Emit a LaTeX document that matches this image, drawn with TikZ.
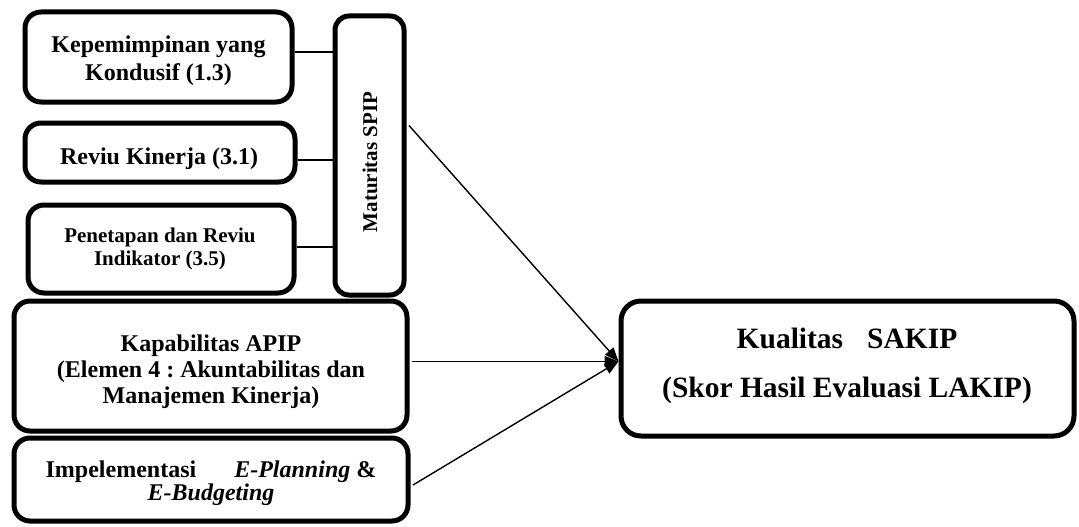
\documentclass[tikz,border=0pt]{standalone}
\usepackage{fontspec}
\setmainfont{Liberation Serif}
\usetikzlibrary{arrows.meta}
\frenchspacing
\begin{document}
\begin{tikzpicture}[x=1pt,y=-1pt,
  box/.style={draw, line width=5pt, rounded corners=16pt, inner sep=0pt},
  txt/.style={inner sep=0pt, align=center, font=\bfseries\fontsize{24}{28}\selectfont},
  link/.style={line width=1.4pt},
  arr/.style={line width=1.4pt, -{Triangle[length=14pt,width=11pt]}}]
\useasboundingbox (0,0) rectangle (1079,527);

% indicator boxes feeding the SPIP maturity bar
\node[box, minimum width=267pt, minimum height=90pt] (kep) at (158.5,57) {};
\node[txt] (keptxt) at (158.5,61) {Kepemimpinan yang\\Kondusif (1.3)};
\node[box, minimum width=270pt, minimum height=59pt] (rev) at (160,152.5) {};
\node[txt] (revtxt) at (159,159) {Reviu Kinerja (3.1)};
\node[box, minimum width=266pt, minimum height=88pt] (pen) at (161,249) {};
\node[txt, font=\bfseries\fontsize{21}{23}\selectfont] (pentxt) at (160,249)
  {Penetapan dan Reviu\\Indikator (3.5)};

% vertical bar
\node[box, rounded corners=14pt, minimum width=69pt, minimum height=279pt] (mat) at (369.5,155.5) {};
\node[rotate=90, inner sep=0pt, font=\bfseries\fontsize{21}{24}\selectfont] (matlbl) at (370,162) {Maturitas SPIP};

% lower input boxes
\node[box, minimum width=393pt, minimum height=130pt] (kap) at (210.5,366) {};
\node[txt, font=\bfseries\fontsize{24}{26}\selectfont] (kaptxt) at (211,372)
  {Kapabilitas APIP\\(Elemen 4 : Akuntabilitas dan\\Manajemen Kinerja)};
\node[box, minimum width=394pt, minimum height=83pt] (imp) at (211,479.5) {};
\node[txt, font=\bfseries\fontsize{24}{23}\selectfont] (imptxt) at (211,483)
  {Impelementasi\hspace*{38pt}\textit{E-Planning} \&\\\textit{E-Budgeting}};

% outcome box
\node[box, rounded corners=20pt, minimum width=453pt, minimum height=135pt] (kual) at (847.5,368.5) {};
\node[txt, font=\bfseries\fontsize{29.5}{49}\selectfont] (kualtxt) at (847,366)
  {Kualitas\hspace*{24pt}SAKIP\\(Skor Hasil Evaluasi LAKIP)};

\coordinate (tip) at ([yshift=7pt]kual.west);

% short links into the bar
\draw[link] ([yshift=5pt]kep.east) -- ([yshift=5pt]kep.east -| mat.west);
\draw[link] ([yshift=-7.5pt]rev.east) -- ([yshift=-7.5pt]rev.east -| mat.west);
\draw[link] ([yshift=2pt]pen.east) -- ([yshift=2pt]pen.east -| mat.west);

% arrows into the outcome
\draw[arr] ([xshift=2.5pt,yshift=30pt]mat.east) -- (tip);
\draw[arr] ([xshift=2.5pt]kap.east |- tip) -- (tip);
\draw[arr] ([xshift=2.5pt,yshift=-5.5pt]imp.east) -- (tip);
\end{tikzpicture}
\end{document}
